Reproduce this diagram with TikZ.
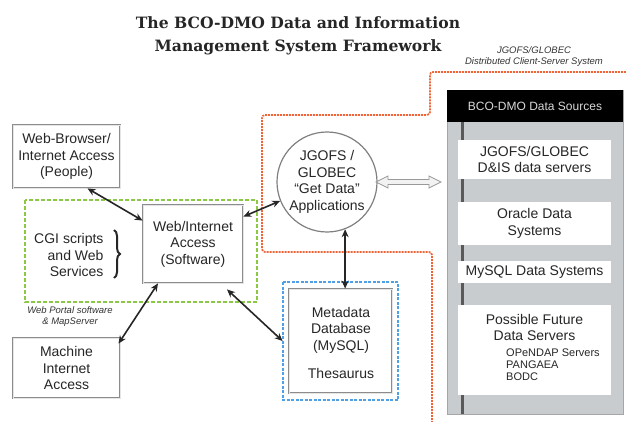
\documentclass[tikz,border=0pt]{standalone}
\usepackage{fontspec}
\setmainfont{Liberation Sans}
\newfontfamily\titlefont{DejaVu Serif}
\usetikzlibrary{arrows.meta,calc,decorations.pathreplacing}
\definecolor{orng}{RGB}{240,100,55}
\definecolor{grn}{RGB}{140,200,70}
\definecolor{blu}{RGB}{80,160,230}
\definecolor{panel}{RGB}{200,204,207}
\begin{document}
\begin{tikzpicture}[x=1pt,y=-1pt,
  txt/.style={font=\fontsize{14}{16.5}\selectfont, text=black!85, align=center},
  gbox/.style={txt, draw=black!45, double=black!10, double distance=0.8pt, line width=0.8pt, fill=white, inner sep=0pt},
  dsbox/.style={txt, fill=white, inner sep=0pt, minimum width=153pt},
  note/.style={font=\itshape\fontsize{9.5}{11}\selectfont, text=black!80, align=center},
  dbl/.style={{Stealth[length=8pt,width=7pt]}-{Stealth[length=8pt,width=7pt]}, line width=1.6pt, black!85},
  orngline/.style={orng, line width=1.7pt, dash pattern=on 2pt off 1pt, rounded corners=3pt},
]
\useasboundingbox (0,0) rectangle (626,422);

% title
\node[font=\titlefont\bfseries\fontsize{15.6}{23}\selectfont, text=black!85, align=center] (title) at (298,36) {The BCO-DMO Data and Information\\Management System Framework};

% distributed system label
\node[note] (dist) at (534,57) {JGOFS/GLOBEC\\Distributed Client-Server System};

% orange boundary
\draw[orngline] (626,72) -- (430,72) -- (430,115) -- (262,115) -- (262,252) -- (432,252) -- (432,422);

% data sources panel
\fill[panel] (447,90) rectangle (623,414);
\draw[black!35, line width=0.8pt] (447,90) rectangle (623,414);
\fill[black!65] (461,122) rectangle (464,414);
\node[fill=black, minimum width=176pt, minimum height=32pt, inner sep=0pt, text=black!15, font=\fontsize{12}{14}\selectfont] (hdr) at (535,106) {BCO-DMO Data Sources};
\node[dsbox, minimum height=39pt] (ds1) at (534.5,159.5) {JGOFS/GLOBEC\\D\&IS data servers};
\node[dsbox, minimum height=43pt] (ds2) at (534.5,223.5) {Oracle Data\\Systems};
\node[dsbox, minimum height=22pt] (ds3) at (534.5,272) {MySQL Data Systems};
\node[dsbox, minimum height=90pt] (ds4) at (534.5,350) {};
\node[txt] (ds4t) at (534.5,327.5) {Possible Future\\Data Servers};
\node[font=\fontsize{11}{12}\selectfont, text=black!85, align=left, anchor=west, inner sep=0pt] (ds4l) at (506,365) {OPeNDAP Servers\\PANGAEA\\BODC};

% green dashed region
\draw[grn, line width=1.3pt, dash pattern=on 4pt off 2pt] (25,200) rectangle (257,302);
\node[note] (portal) at (70,317) {Web Portal software\\\& MapServer};

% left boxes
\node[gbox, minimum width=107pt, minimum height=63pt] (browser) at (66.5,156.5) {Web-Browser/\\Internet Access\\(People)};
\node[gbox, minimum width=100pt, minimum height=78pt] (software) at (193,244) {Web/Internet\\Access\\(Software)};
\node[gbox, minimum width=107pt, minimum height=60pt] (machine) at (66.5,368) {Machine\\Internet\\Access};
\node[txt, align=right, anchor=east] (cgi) at (107,255) {CGI scripts\\and Web\\Services};
\draw[line width=2pt, black!85, decorate, decoration={brace, amplitude=6pt}] (114,230) -- (114,278);

% circle
\node[txt, circle, draw=black!50, line width=1.2pt, fill=white, minimum size=100pt, inner sep=0pt] (getdata) at (327,182) {JGOFS /\\GLOBEC\\``Get Data''\\Applications};

% metadata
\draw[blu, line width=1.3pt, dash pattern=on 3pt off 1.5pt] (283,282) rectangle (398,400);
\node[gbox, minimum width=103pt, minimum height=104pt] (meta) at (340.5,341) {};
\node[txt] (metat) at (341,330) {Metadata\\Database\\(MySQL)};
\node[txt] (thes) at (341,373) {Thesaurus};

% arrows
\draw[dbl] ([xshift=21pt]browser.south) -- ([yshift=-16pt]software.north west);
\draw[dbl] ([yshift=-12pt]software.north east) -- (getdata.202);
\draw[dbl] ([xshift=-35pt]software.south) -- ([xshift=52pt,yshift=-6pt]machine.north);
\draw[dbl] ([xshift=34pt,yshift=-6pt]software.south) -- ([xshift=-6pt]meta.west);
\draw[dbl] (getdata.-69) -- (getdata.-69 |- meta.north);

% hollow double arrow
\coordinate (ha) at (376,182);
\draw[black!40, fill=black!5, line width=0.8pt] (ha) -- ++(12,-6) -- ++(0,3.5) -- ++(41,0) -- ++(0,-3.5) -- ++(12,6) -- ++(-12,6) -- ++(0,-3.5) -- ++(-41,0) -- ++(0,3.5) -- cycle;
\end{tikzpicture}
\end{document}
